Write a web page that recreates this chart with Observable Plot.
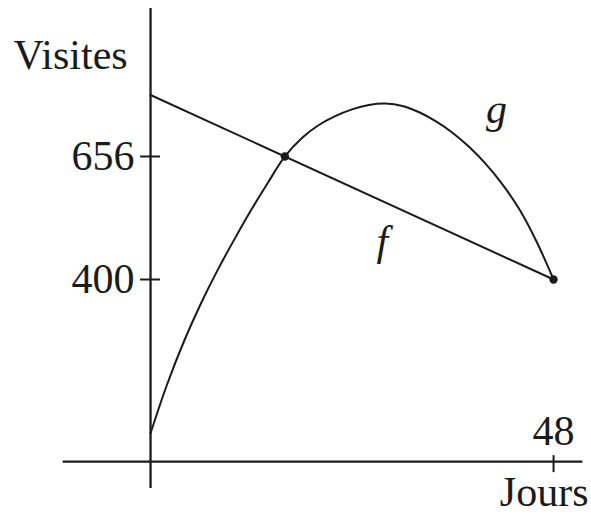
<!DOCTYPE html>
<html>
<head>
<meta charset="utf-8">
<script src="https://cdn.jsdelivr.net/npm/d3@7"></script>
<script src="https://cdn.jsdelivr.net/npm/@observablehq/plot@0.6"></script>
<style>
  body { margin: 0; background: #fff; }
  svg { display: block; }
  svg, svg text { font-family: "Liberation Serif", "Times New Roman", Times, serif !important; }
</style>
</head>
<body>
<div id="chart"></div>
<script>
// Straight line f: visits as a function of days
const fDays = [0, 48];
const fVisits = [784, 400];

// Curve g: visits as a function of days
const gDays   = [0, 2, 4, 6, 8, 10, 12, 14, 16, 18, 20, 22, 24, 26, 28, 30, 32, 34, 36, 38, 40, 42, 44, 46, 48];
const gVisits = [80, 183, 272, 350, 420, 484, 545, 602, 656, 694, 721, 740, 754, 763, 766, 761, 748, 729, 705, 675, 639, 596, 544, 478, 400];

// Graduations
const yTicks = [400, 656];
const xTicks = [48];

// Highlighted points (f and g meet)
const markedDays = [16, 48];
const markedVisits = [656, 400];

// Curve names and where they sit
const curveNames = ["f", "g"];
const nameDays = [27.6, 41.2];
const nameVisits = [478, 754];

// Axis layout: where the day axis crosses, and how far each axis runs
const axisBase = 21;
const xExtent = [-10.4, 51.5];
const yExtent = [-35, 964];
const xDomain = [-17.87, 52.52];
const yDomain = [-103.6, 980.6];

const ink = "#1b1b1b";
const serif = "Liberation Serif, Times New Roman, serif";

const fData = fDays.map((d, i) => ({day: d, visits: fVisits[i]}));
const gData = gDays.map((d, i) => ({day: d, visits: gVisits[i]}));
const marked = markedDays.map((d, i) => ({day: d, visits: markedVisits[i]}));
const names = curveNames.map((n, i) => ({name: n, day: nameDays[i], visits: nameVisits[i]}));

const chart = Plot.plot({
  width: 591,
  height: 521,
  margin: 0,
  x: {domain: xDomain, axis: null},
  y: {domain: yDomain, axis: null},
  style: {fontFamily: serif, color: ink, background: "#fff"},
  marks: [
    // axes
    Plot.ruleY([axisBase], {x1: xExtent[0], x2: xExtent[1], stroke: ink, strokeWidth: 2.3}),
    Plot.ruleX([0], {y1: yExtent[0], y2: yExtent[1], stroke: ink, strokeWidth: 2.3}),
    // graduations crossing the axes
    Plot.ruleY(yTicks, {x1: 0, x2: 0, insetLeft: -10, insetRight: -10, stroke: ink, strokeWidth: 2}),
    Plot.ruleX(xTicks, {y1: axisBase, y2: axisBase, insetTop: -6, insetBottom: -11, stroke: ink, strokeWidth: 2}),
    Plot.text(yTicks, {x: 0, y: d => d, text: d => String(d), textAnchor: "end", dx: -16, fontSize: 42, fill: ink}),
    Plot.text(xTicks, {x: d => d, y: axisBase, text: d => String(d), dy: -30, fontSize: 42, fill: ink}),
    // axis titles
    Plot.text(["Visites"], {frameAnchor: "top-left", textAnchor: "start", dx: 13, dy: 39, fontSize: 42, fill: ink}),
    Plot.text(["Jours"], {frameAnchor: "bottom-right", textAnchor: "end", dx: -3, dy: -16, fontSize: 42, fill: ink}),
    // the two functions
    Plot.line(fData, {x: "day", y: "visits", stroke: ink, strokeWidth: 2}),
    Plot.line(gData, {x: "day", y: "visits", curve: "catmull-rom", stroke: ink, strokeWidth: 2}),
    Plot.dot(marked, {x: "day", y: "visits", r: 4.2, fill: ink, stroke: "none"}),
    Plot.text(names, {x: "day", y: "visits", text: "name", fontSize: 42, fontStyle: "italic", fill: ink})
  ]
});

document.getElementById("chart").append(chart);
</script>
</body>
</html>
